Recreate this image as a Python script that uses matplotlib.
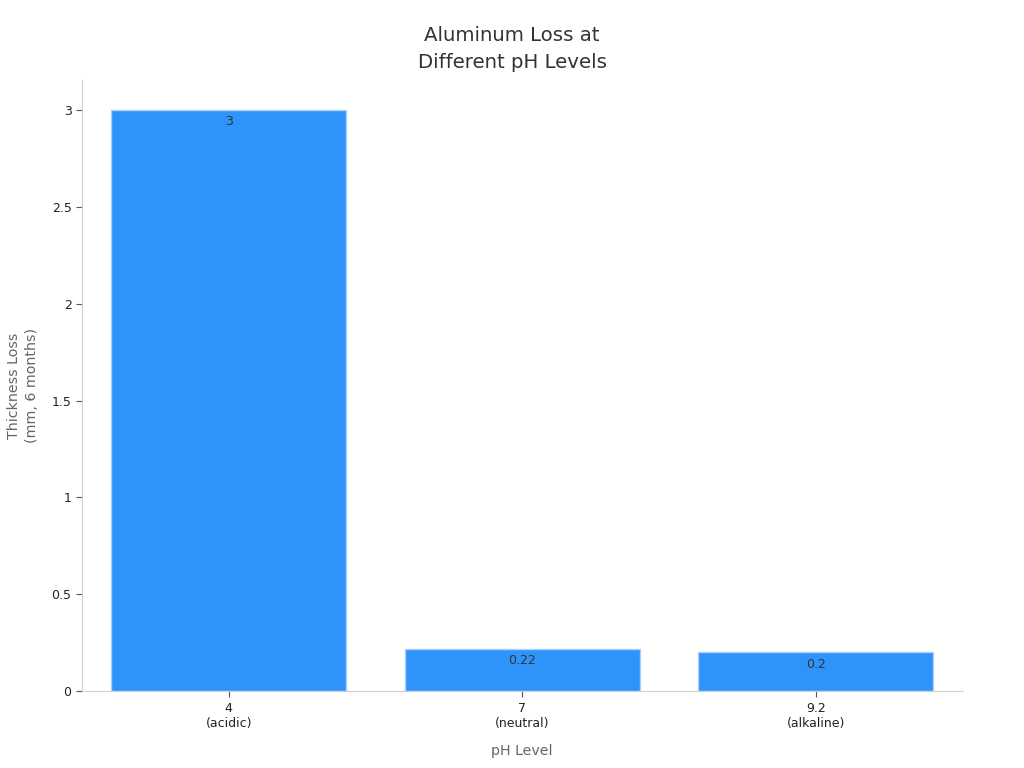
import matplotlib
matplotlib.use("Agg")
import matplotlib.pyplot as plt

# Данные
categories = ["4\n(acidic)", "7\n(neutral)", "9.2\n(alkaline)"]
loss_mm = [3.0, 0.22, 0.2]
value_labels = ["3", "0.22", "0.2"]

BAR_COLOR = "#2E93FA"
EDGE_COLOR = "#A9D1FB"
SPINE_COLOR = "#D0D0D0"

fig = plt.figure(figsize=(10.24, 7.68), dpi=100)
ax = fig.add_axes([0.080, 0.100, 0.860, 0.796])

x = range(len(categories))
bars = ax.bar(x, loss_mm, width=0.8, color=BAR_COLOR,
              edgecolor=EDGE_COLOR, linewidth=1.0)

for b, lab in zip(bars, value_labels):
    ax.annotate(lab, (b.get_x() + b.get_width() / 2, b.get_height()),
                xytext=(0, -4), textcoords="offset points",
                ha="center", va="top", fontsize=9, color="#333333")

ax.set_xlim(-0.5, 2.5)
ax.set_ylim(0, 3.155)
ax.set_xticks(list(x))
ax.set_xticklabels(categories, fontsize=9, color="#222222")
ax.set_yticks([0, 0.5, 1, 1.5, 2, 2.5, 3])
ax.set_yticklabels(["0", "0.5", "1", "1.5", "2", "2.5", "3"],
                   fontsize=9, color="#222222")

for s in ["top", "right"]:
    ax.spines[s].set_visible(False)
for s in ["left", "bottom"]:
    ax.spines[s].set_color(SPINE_COLOR)
ax.tick_params(axis="both", colors="#555555", labelcolor="#222222",
               length=4, width=0.8)

ax.set_xlabel("pH Level", fontsize=10.2, color="#666666", labelpad=10)
ax.set_ylabel("Thickness Loss\n(mm, 6 months)", fontsize=10.3,
              color="#666666", labelpad=9, linespacing=1.35)
# заголовок по центру всей фигуры
fig.suptitle("Aluminum Loss at\nDifferent pH Levels", fontsize=14.2,
             color="#333333", x=0.5, y=0.966, va="top", linespacing=1.5)

fig.savefig("out.png", dpi=100)
